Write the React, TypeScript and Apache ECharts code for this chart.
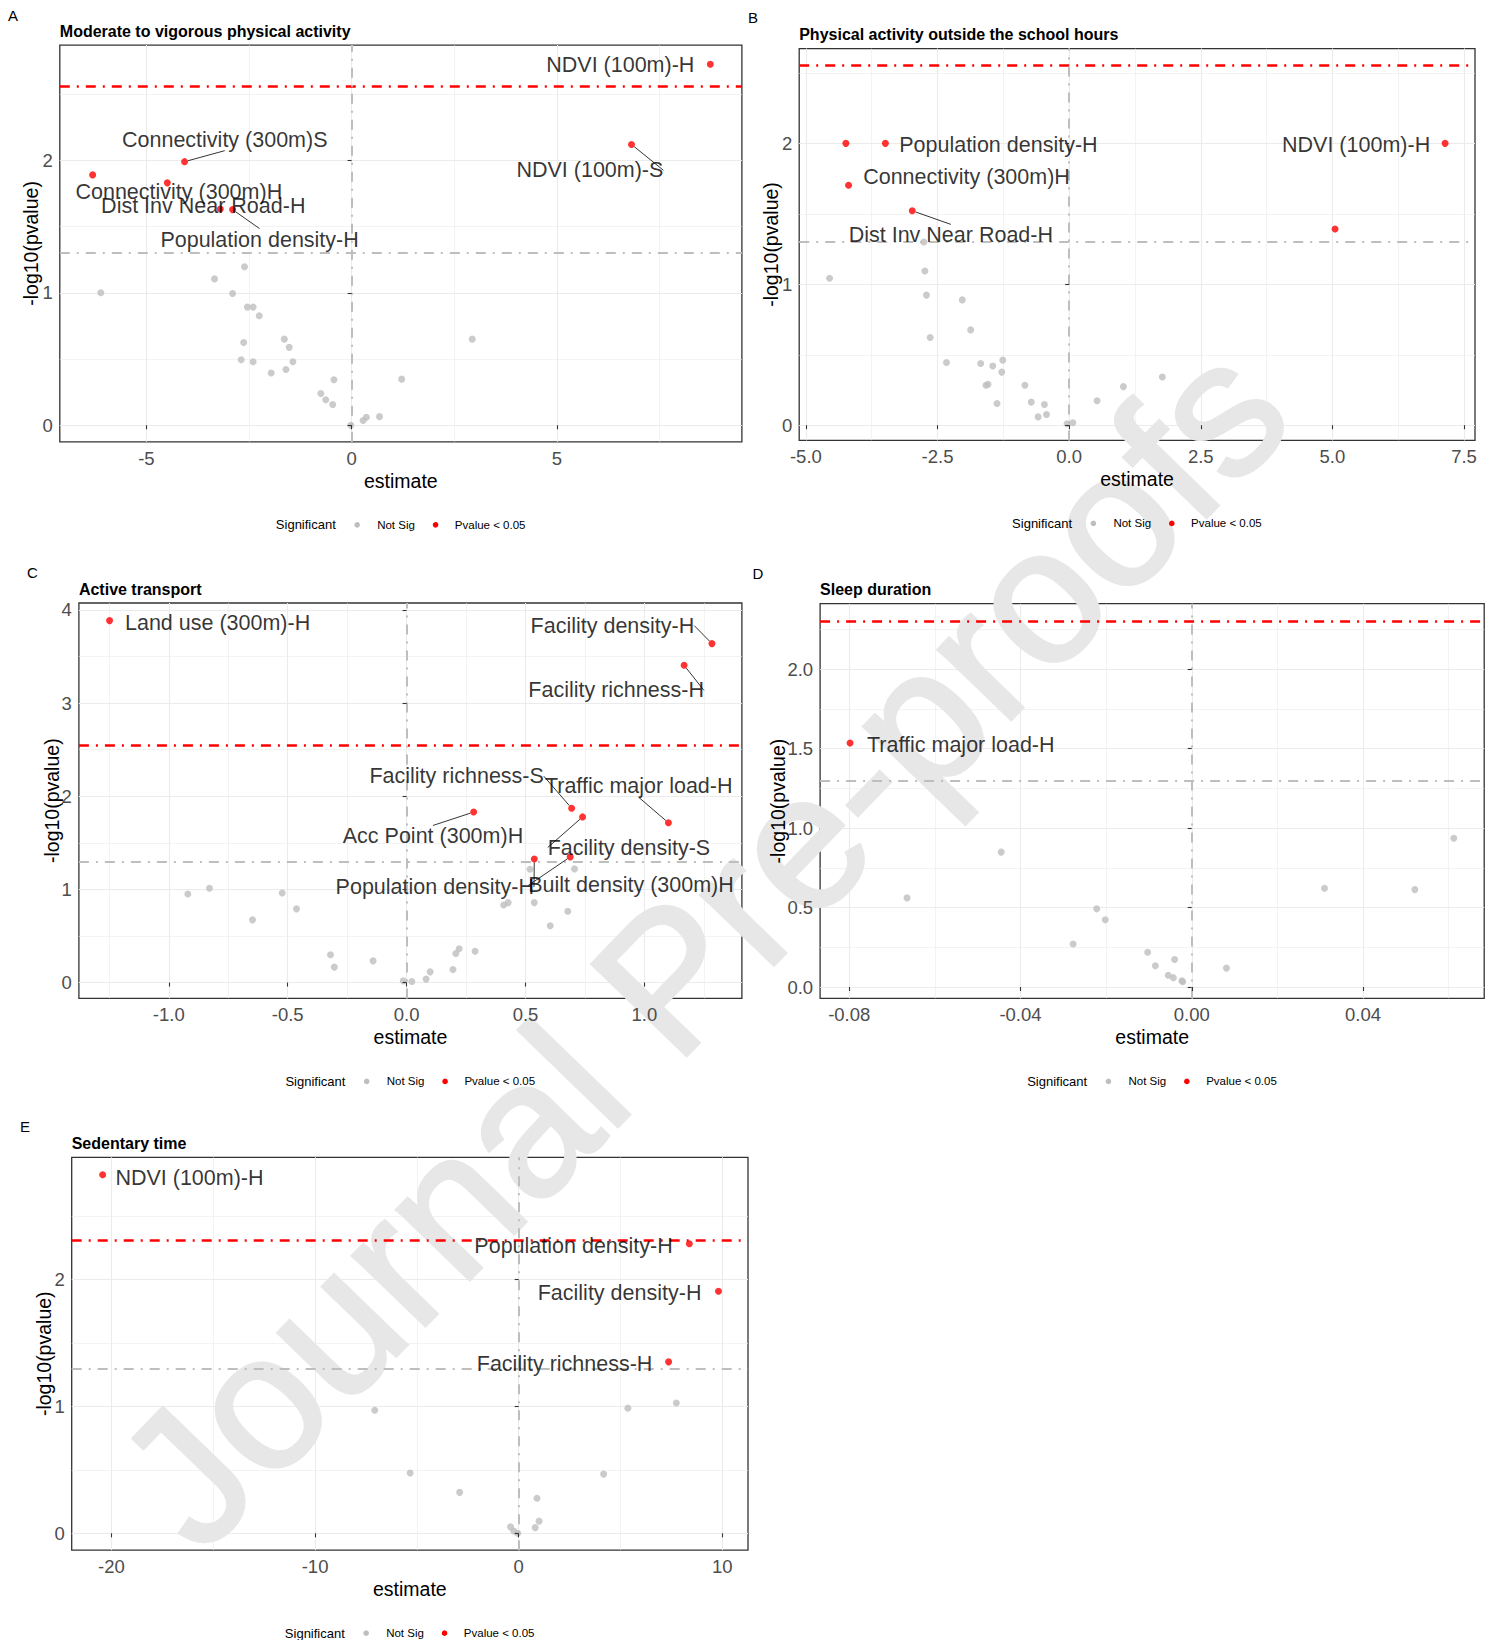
import React, { useEffect, useRef } from "react";
import * as echarts from "echarts";

const FONT = '"Liberation Sans", Arial, Helvetica, sans-serif';

// ---------------- DATA ----------------
const X_TITLE = "estimate";
const Y_TITLE = "-log10(pvalue)";
const LEGEND_TITLE = "Significant";
const LEGEND_LABELS = ["Not Sig", "Pvalue < 0.05"];
const WATERMARK = "Journal Pre-proofs";
const P05_LINE = 1.301;
const BONF_LINES = [2.556, 2.555, 2.551, 2.303, 2.309];
const PANEL_LETTERS = ["A", "B", "C", "D", "E"];
const PANEL_TITLES = [
  "Moderate to vigorous physical activity",
  "Physical activity outside the school hours",
  "Active transport",
  "Sleep duration",
  "Sedentary time",
];

// Panel A
const A_NS_EST = [-6.11, -3.34, -2.61, -2.9, -2.54, -2.4, -2.25, -2.63, -1.64, -1.52, -2.69, -2.4, -1.43, -1.96, -1.6, -0.43, -0.75, -0.63, -0.46, 1.22, 2.94, -0.02, 0.28, 0.36, 0.68];
const A_NS_LOGP = [1.0, 1.105, 1.196, 0.994, 0.892, 0.892, 0.827, 0.624, 0.65, 0.588, 0.494, 0.479, 0.479, 0.395, 0.421, 0.343, 0.239, 0.192, 0.156, 0.348, 0.65, 0.0, 0.036, 0.06, 0.065];
const A_SIG_EST = [8.74, 6.82, -4.07, -4.49, -3.2, -2.9, -6.31];
const A_SIG_LOGP = [2.726, 2.12, 1.99, 1.83, 1.633, 1.628, 1.89];
const A_SIG_LABELS = ["NDVI (100m)-H", "NDVI (100m)-S", "Connectivity (300m)S", "Connectivity (300m)H", "Dist Inv Near Road-H", "Population density-H", ""];
const A_X_TICKS = [-5, 0, 5];
const A_Y_TICKS = [0, 1, 2];

// Panel B
const B_NS_EST = [-4.55, -2.76, -2.74, -2.71, -2.03, -1.87, -2.64, -2.33, -1.68, -1.45, -1.26, -1.28, -1.54, -1.58, -0.84, -1.37, -0.72, -0.47, -0.59, -0.43, -0.04, 0.07, 0.53, 1.03, 1.77];
const B_NS_LOGP = [1.044, 1.301, 1.095, 0.924, 0.89, 0.677, 0.623, 0.445, 0.438, 0.421, 0.462, 0.377, 0.291, 0.284, 0.284, 0.154, 0.164, 0.147, 0.059, 0.076, 0.01, 0.017, 0.174, 0.274, 0.342];
const B_SIG_EST = [-3.49, -4.19, -2.98, 7.14, -4.24, 5.05];
const B_SIG_LOGP = [2.002, 1.704, 1.523, 2.002, 2.002, 1.394];
const B_SIG_LABELS = ["Population density-H", "Connectivity (300m)H", "Dist Inv Near Road-H", "NDVI (100m)-H", "", ""];
const B_X_TICKS = [-5, -2.5, 0, 2.5, 5, 7.5];
const B_Y_TICKS = [0, 1, 2];

// Panel C
const C_NS_EST = [-0.92, -0.829, -0.523, -0.463, -0.648, -0.32, -0.304, -0.141, -0.014, 0.022, 0.082, 0.099, 0.195, 0.207, 0.221, 0.288, 0.408, 0.427, 0.519, 0.537, 0.604, 0.678, 0.706];
const C_NS_LOGP = [0.95, 1.013, 0.961, 0.791, 0.673, 0.299, 0.166, 0.233, 0.018, 0.011, 0.037, 0.115, 0.14, 0.311, 0.362, 0.336, 0.832, 0.858, 1.216, 0.858, 0.61, 0.765, 1.22];
const C_SIG_EST = [-1.249, 1.284, 1.167, 0.694, 1.101, 0.282, 0.74, 0.537, 0.688];
const C_SIG_LOGP = [3.885, 3.638, 3.405, 1.871, 1.715, 1.83, 1.778, 1.327, 1.349];
const C_SIG_LABELS = ["Land use (300m)-H", "Facility density-H", "Facility richness-H", "Facility richness-S", "Traffic major load-H", "Acc Point (300m)H", "Facility density-S", "Population density-H", "Built density (300m)H"];
const C_X_TICKS = [-1, -0.5, 0, 0.5, 1];
const C_Y_TICKS = [0, 1, 2, 3, 4];

// Panel D
const D_NS_EST = [-0.0665, -0.0445, -0.0222, -0.0202, -0.0277, -0.0103, -0.0085, -0.004, -0.0055, -0.0043, -0.0023, -0.0021, 0.0081, 0.031, 0.0521, 0.0612];
const D_NS_LOGP = [0.561, 0.849, 0.492, 0.423, 0.271, 0.219, 0.134, 0.173, 0.074, 0.059, 0.039, 0.033, 0.119, 0.622, 0.613, 0.936];
const D_SIG_EST = [-0.0798];
const D_SIG_LOGP = [1.536];
const D_SIG_LABELS = ["Traffic major load-H"];
const D_X_TICKS = [-0.08, -0.04, 0, 0.04];
const D_Y_TICKS = [0, 0.5, 1, 1.5, 2];

// Panel E
const E_NS_EST = [-7.07, -5.33, -2.9, 5.36, 7.74, 4.17, 0.9, 1.0, 0.81, -0.4, -0.24, -0.05];
const E_NS_LOGP = [0.971, 0.475, 0.323, 0.987, 1.027, 0.467, 0.277, 0.096, 0.045, 0.051, 0.019, 0.0];
const E_SIG_EST = [-20.43, 8.38, 9.81, 7.36];
const E_SIG_LOGP = [2.827, 2.283, 1.909, 1.352];
const E_SIG_LABELS = ["NDVI (100m)-H", "Population density-H", "Facility density-H", "Facility richness-H"];
const E_X_TICKS = [-20, -10, 0, 10];
const E_Y_TICKS = [0, 1, 2];

// ---------------- LAYOUT / STYLE ----------------
const GRIDS = [
  { left: 59.8, top: 45.1, width: 682.1, height: 396.7 },
  { left: 799.2, top: 48.6, width: 675.8, height: 391.8 },
  { left: 78.9, top: 603, width: 663, height: 395.4 },
  { left: 820.1, top: 603.7, width: 664.1, height: 394.7 },
  { left: 71.7, top: 1157.3, width: 676.3, height: 392.9 },
];
const X_RANGES = [[-7.11, 9.51], [-5.127, 7.708], [-1.378, 1.41], [-0.0868, 0.0683], [-21.95, 11.26]];
const Y_RANGES = [[-0.125, 2.87], [-0.108, 2.675], [-0.17, 4.074], [-0.0715, 2.412], [-0.133, 2.965]];
const X_DIGITS = [0, 1, 1, 2, 0];
const Y_DIGITS = [0, 0, 0, 1, 0];
const Y_TITLE_GAP = [28.8, 28.2, 27.3, 42, 28];
const LETTER_POS = [[13, 15.5], [753, 17], [32.5, 572], [758, 573], [25, 1126]];
// label offsets (px) relative to point, and whether a leader segment is drawn
const A_LABEL_OFFSETS = [[-90, 1], [-41.6, 25.8], [40.2, -22], [11.5, 9], [-17, -3], [27, 30], [0, 0]];
const A_LEADERS = [false, true, true, false, false, true, false];
const B_LABEL_OFFSETS = [[113, 1.4], [118, -8], [38.6, 24.6], [-89, 1.4], [0, 0], [0, 0]];
const B_LEADERS = [false, false, true, false, false, false];
const C_LABEL_OFFSETS = [[108, 2.4], [-99.5, -18], [-68, 25], [-115, -32], [-29.7, -36.5], [-40.7, 24.4], [46.4, 30.6], [-99.5, 28], [60.8, 28.6]];
const C_LEADERS = [false, true, true, true, true, true, true, true, true];
const D_LABEL_OFFSETS = [[110.7, 2]];
const D_LEADERS = [false];
const E_LABEL_OFFSETS = [[86.8, 2.7], [-115.8, 2.4], [-98.9, 2], [-104, 2.4]];
const E_LEADERS = [false, false, false, false];

const GREY = "#BEBEBE";
const RED = "#FF0000";
const GRID_COLOR = "#EBEBEB";
const WATERMARK_COLOR = "#E7E7E7";
const DASH = [10, 7, 2, 7];

const PANELS = [
  { nsEst: A_NS_EST, nsLogp: A_NS_LOGP, sigEst: A_SIG_EST, sigLogp: A_SIG_LOGP, labels: A_SIG_LABELS, offsets: A_LABEL_OFFSETS, leaders: A_LEADERS, xTicks: A_X_TICKS, yTicks: A_Y_TICKS },
  { nsEst: B_NS_EST, nsLogp: B_NS_LOGP, sigEst: B_SIG_EST, sigLogp: B_SIG_LOGP, labels: B_SIG_LABELS, offsets: B_LABEL_OFFSETS, leaders: B_LEADERS, xTicks: B_X_TICKS, yTicks: B_Y_TICKS },
  { nsEst: C_NS_EST, nsLogp: C_NS_LOGP, sigEst: C_SIG_EST, sigLogp: C_SIG_LOGP, labels: C_SIG_LABELS, offsets: C_LABEL_OFFSETS, leaders: C_LEADERS, xTicks: C_X_TICKS, yTicks: C_Y_TICKS },
  { nsEst: D_NS_EST, nsLogp: D_NS_LOGP, sigEst: D_SIG_EST, sigLogp: D_SIG_LOGP, labels: D_SIG_LABELS, offsets: D_LABEL_OFFSETS, leaders: D_LEADERS, xTicks: D_X_TICKS, yTicks: D_Y_TICKS },
  { nsEst: E_NS_EST, nsLogp: E_NS_LOGP, sigEst: E_SIG_EST, sigLogp: E_SIG_LOGP, labels: E_SIG_LABELS, offsets: E_LABEL_OFFSETS, leaders: E_LEADERS, xTicks: E_X_TICKS, yTicks: E_Y_TICKS },
];

function minorsOf(ticks: number[], range: number[]) {
  const step = ticks[1] - ticks[0];
  const out: number[] = [];
  for (let k = -1; k < ticks.length; k++) {
    const v = ticks[0] + step * (k + 0.5);
    if (v > range[0] && v < range[1]) out.push(Math.round(v * 1e6) / 1e6);
  }
  return out;
}

function buildOption() {
  const grid: any[] = [];
  const xAxis: any[] = [];
  const yAxis: any[] = [];
  const series: any[] = [];
  const graphic: any[] = [];

  PANELS.forEach((p, i) => {
    const g = GRIDS[i];
    grid.push({
      left: g.left, top: g.top, width: g.width, height: g.height,
      show: true, borderColor: "#333333", borderWidth: 1.3, backgroundColor: "transparent",
      outerBoundsMode: "none", containLabel: false,
    });
    const tickStyle = { color: "#333333", width: 1.1 };
    const labelStyle = { color: "#4D4D4D", fontSize: 18.5, fontFamily: FONT };
    xAxis.push({
      gridIndex: i, type: "value", min: X_RANGES[i][0], max: X_RANGES[i][1], z: 10,
      axisLine: { show: false },
      axisTick: { show: true, customValues: p.xTicks, length: 4, lineStyle: tickStyle },
      axisLabel: { ...labelStyle, customValues: p.xTicks, margin: 7, formatter: (v: number) => v.toFixed(X_DIGITS[i]) },
      splitLine: { show: false },
    });
    yAxis.push({
      gridIndex: i, type: "value", min: Y_RANGES[i][0], max: Y_RANGES[i][1], z: 10,
      axisLine: { show: false },
      axisTick: { show: true, customValues: p.yTicks, length: 4, lineStyle: tickStyle },
      axisLabel: { ...labelStyle, customValues: p.yTicks, margin: 7, formatter: (v: number) => v.toFixed(Y_DIGITS[i]) },
      splitLine: { show: false },
    });

    const major = { color: GRID_COLOR, width: 1.1, type: "solid" };
    const minor = { color: GRID_COLOR, width: 0.6, type: "solid" };
    const gridLines = [
      ...p.xTicks.map((v) => ({ xAxis: v, lineStyle: major })),
      ...minorsOf(p.xTicks, X_RANGES[i]).map((v) => ({ xAxis: v, lineStyle: minor })),
      ...p.yTicks.map((v) => ({ yAxis: v, lineStyle: major })),
      ...minorsOf(p.yTicks, Y_RANGES[i]).map((v) => ({ yAxis: v, lineStyle: minor })),
    ];
    series.push({
      type: "scatter", xAxisIndex: i, yAxisIndex: i, data: [], silent: true,
      markLine: { silent: true, z: 1, symbol: ["none", "none"], label: { show: false }, emphasis: { disabled: true }, data: gridLines },
    });
    series.push({
      type: "scatter", xAxisIndex: i, yAxisIndex: i, data: [], silent: true,
      markLine: {
        silent: true, z: 4, symbol: ["none", "none"], label: { show: false }, emphasis: { disabled: true },
        data: [
          { yAxis: BONF_LINES[i], lineStyle: { color: RED, width: 2.6, type: DASH } },
          { yAxis: P05_LINE, lineStyle: { color: GREY, width: 2, type: DASH } },
          { xAxis: 0, lineStyle: { color: GREY, width: 2, type: DASH } },
        ],
      },
    });
    series.push({
      name: LEGEND_LABELS[0], type: "scatter", xAxisIndex: i, yAxisIndex: i, z: 5,
      symbolSize: 7, itemStyle: { color: GREY }, silent: true,
      data: p.nsEst.map((x, k) => [x, p.nsLogp[k]]),
    });
    series.push({
      name: LEGEND_LABELS[1], type: "scatter", xAxisIndex: i, yAxisIndex: i, z: 6,
      symbolSize: 7, itemStyle: { color: RED }, silent: true,
      data: p.sigEst.map((x, k) => ({
        value: [x, p.sigLogp[k]],
        name: p.labels[k],
        label: { show: p.labels[k] !== "" },
        labelLine: { show: p.leaders[k] },
      })),
      label: { show: true, position: "inside", formatter: "{b}", color: "#000", fontSize: 21.5, fontFamily: FONT },
      labelLayout: (params: any) => ({ dx: p.offsets[params.dataIndex][0], dy: p.offsets[params.dataIndex][1] }),
      labelLine: { show: true, smooth: false, lineStyle: { color: "#000", width: 0.8 } },
    });

    const cx = g.left + g.width / 2;
    const cy = g.top + g.height / 2;
    const bottom = g.top + g.height;
    graphic.push(
      { type: "text", x: LETTER_POS[i][0], y: LETTER_POS[i][1], z: 10, style: { text: PANEL_LETTERS[i], fontSize: 15, fontFamily: FONT, fill: "#000", align: "center", verticalAlign: "middle", textAlign: "center", textVerticalAlign: "middle" } },
      { type: "text", x: g.left, y: g.top - 14, z: 10, style: { text: PANEL_TITLES[i], fontSize: 16, fontWeight: "bold", fontFamily: FONT, fill: "#000", align: "left", verticalAlign: "middle", textAlign: "left", textVerticalAlign: "middle" } },
      { type: "text", x: cx, y: bottom + 39, z: 10, style: { text: X_TITLE, fontSize: 19.5, fontFamily: FONT, fill: "#000", align: "center", verticalAlign: "middle", textAlign: "center", textVerticalAlign: "middle" } },
      { type: "text", x: g.left - Y_TITLE_GAP[i], y: cy, rotation: Math.PI / 2, z: 10, style: { text: Y_TITLE, fontSize: 19.5, fontFamily: FONT, fill: "#000", align: "center", verticalAlign: "middle", textAlign: "center", textVerticalAlign: "middle" } },
    );
    const lx = cx - 125;
    const ly = bottom + 83;
    graphic.push(
      { type: "text", x: lx, y: ly, z: 10, style: { text: LEGEND_TITLE, fontSize: 13, fontFamily: FONT, fill: "#000", align: "left", verticalAlign: "middle", textAlign: "left", textVerticalAlign: "middle" } },
      { type: "circle", shape: { cx: lx + 81.3, cy: ly, r: 2.8 }, z: 10, style: { fill: GREY } },
      { type: "text", x: lx + 101.3, y: ly, z: 10, style: { text: LEGEND_LABELS[0], fontSize: 11.5, fontFamily: FONT, fill: "#000", align: "left", verticalAlign: "middle", textAlign: "left", textVerticalAlign: "middle" } },
      { type: "circle", shape: { cx: lx + 159.7, cy: ly, r: 2.8 }, z: 10, style: { fill: RED } },
      { type: "text", x: lx + 179, y: ly, z: 10, style: { text: LEGEND_LABELS[1], fontSize: 11.5, fontFamily: FONT, fill: "#000", align: "left", verticalAlign: "middle", textAlign: "left", textVerticalAlign: "middle" } },
    );
  });

  graphic.push({
    type: "text", x: 702, y: 944, rotation: (46 * Math.PI) / 180, z: 3, silent: true,
    style: { text: WATERMARK, fontSize: 192, fontFamily: FONT, fill: WATERMARK_COLOR, stroke: WATERMARK_COLOR, lineWidth: 3, align: "center", verticalAlign: "middle", textAlign: "center", textVerticalAlign: "middle" },
  });

  return {
    animation: false,
    backgroundColor: "#ffffff",
    tooltip: { show: false },
    grid, xAxis, yAxis, series, graphic,
  };
}

export default function App() {
  const ref = useRef<HTMLDivElement>(null);
  useEffect(() => {
    if (!ref.current) return;
    const chart = echarts.init(ref.current, undefined, { renderer: "svg" });
    chart.setOption(buildOption() as any);
    return () => chart.dispose();
  }, []);
  return <div ref={ref} style={{ position: "absolute", left: 0, top: 0, width: 1488, height: 1640 }} />;
}
